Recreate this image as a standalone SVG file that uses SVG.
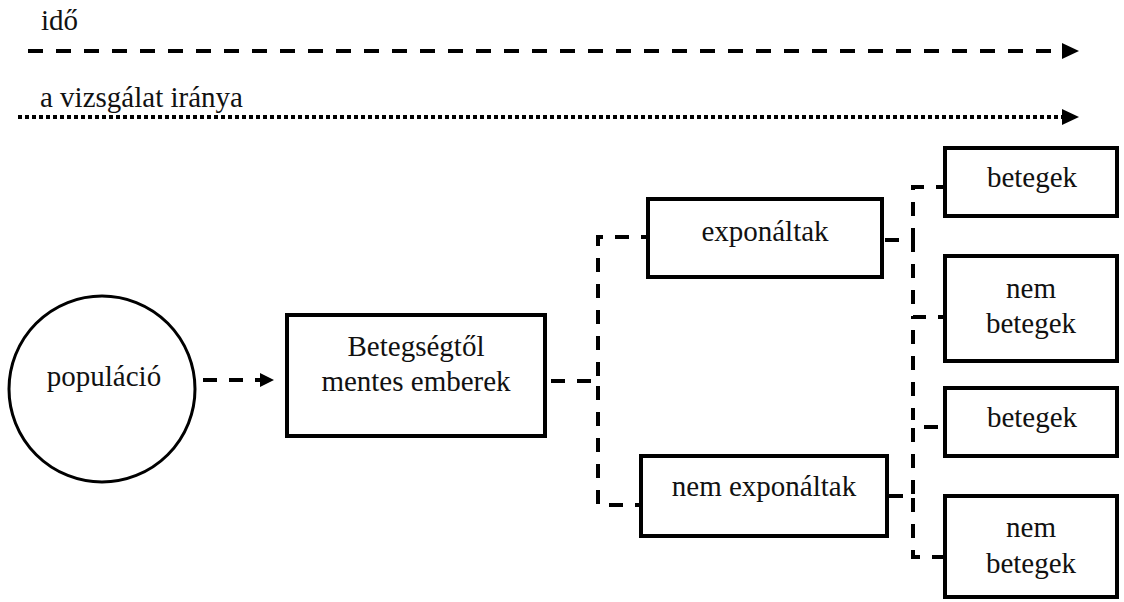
<svg xmlns="http://www.w3.org/2000/svg" width="1124" height="602" viewBox="0 0 1124 602">
<style>
  .lbl { font-family: "Liberation Serif", "Times New Roman", Tinos, "Noto Serif", "DejaVu Serif", FreeSerif, "Noto Serif CJK SC", serif; font-size: 29px; fill: #111; text-anchor: middle; }
  .top { font-family: "Liberation Serif", "Times New Roman", Tinos, "Noto Serif", "DejaVu Serif", FreeSerif, "Noto Serif CJK SC", serif; font-size: 29px; fill: #111; }
  .box { fill: #fff; stroke: #000; stroke-width: 4; }
  .circ { fill: #fff; stroke: #000; stroke-width: 3; }
  .dash { fill: none; stroke: #000; stroke-width: 4; stroke-dasharray: 15 13; }
  .dot { fill: none; stroke: #000; stroke-width: 4; stroke-dasharray: 4 3; }
  .conn { fill: none; stroke: #000; stroke-width: 4; stroke-dasharray: 14 12; }
</style>
<defs>
  <marker id="arrow" markerUnits="userSpaceOnUse" markerWidth="18" markerHeight="16" refX="0" refY="8" orient="auto">
    <path d="M0,0 L17,8 L0,16 Z" fill="#000"/>
  </marker>
  <marker id="arrowS" markerUnits="userSpaceOnUse" markerWidth="16" markerHeight="16" refX="0" refY="8" orient="auto">
    <path d="M0,1 L14,8 L0,15 Z" fill="#000"/>
  </marker>
</defs>

<g id="timeline">
  <text class="top" x="41" y="30">idő</text>
  <path class="dash" d="M28,51 H1062" marker-end="url(#arrow)"/>
</g>
<g id="direction">
  <text class="top" x="40" y="107">a vizsgálat iránya</text>
  <path class="dot" d="M18,117 H1062" marker-end="url(#arrow)"/>
</g>

<g id="connectors">
  <path class="conn" d="M203,380 H260" marker-end="url(#arrowS)"/>
  <path class="conn" d="M551,381 H598 V237 H647"/>
  <path class="conn" d="M551,381 H598 V505 H640"/>
  <path class="conn" d="M885,240 H913 V187 H943"/>
  <path class="conn" d="M885,240 H913 V317 H943"/>
  <path class="conn" d="M913,330 V420"/>
  <path class="conn" d="M889,496 H913 V427 H943"/>
  <path class="conn" d="M889,496 H913 V557 H943"/>
</g>

<g id="populacio">
  <circle class="circ" cx="102" cy="389" r="93"/>
  <text class="lbl" x="104" y="386">populáció</text>
</g>
<g id="betegsegtol">
  <rect class="box" x="287" y="315" width="258" height="121"/>
  <text class="lbl" x="416" y="356">Betegségtől</text>
  <text class="lbl" x="416" y="391">mentes emberek</text>
</g>
<g id="exponaltak">
  <rect class="box" x="648" y="199" width="234" height="78"/>
  <text class="lbl" x="765" y="241">exponáltak</text>
</g>
<g id="nem-exponaltak">
  <rect class="box" x="641" y="456" width="246" height="80"/>
  <text class="lbl" x="764" y="496">nem exponáltak</text>
</g>
<g id="betegek1">
  <rect class="box" x="945" y="148" width="172" height="68"/>
  <text class="lbl" x="1032" y="187">betegek</text>
</g>
<g id="nem-betegek1">
  <rect class="box" x="945" y="256" width="172" height="105"/>
  <text class="lbl" x="1031" y="298">nem</text>
  <text class="lbl" x="1031" y="333">betegek</text>
</g>
<g id="betegek2">
  <rect class="box" x="945" y="388" width="172" height="68"/>
  <text class="lbl" x="1032" y="427">betegek</text>
</g>
<g id="nem-betegek2">
  <rect class="box" x="945" y="496" width="172" height="101"/>
  <text class="lbl" x="1031" y="537">nem</text>
  <text class="lbl" x="1031" y="573">betegek</text>
</g>
</svg>
